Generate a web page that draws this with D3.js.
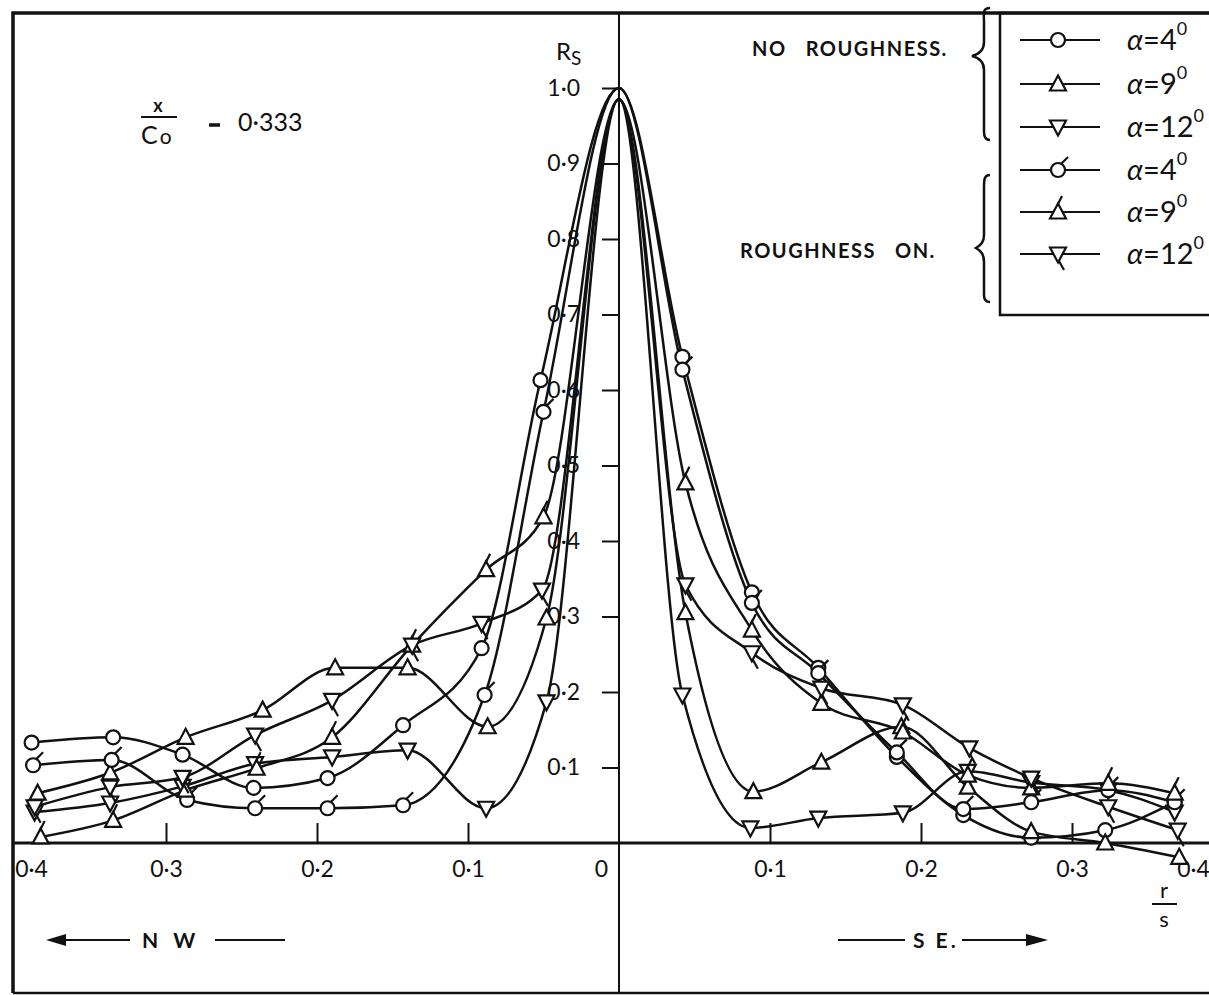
<!DOCTYPE html>
<html>
<head>
<meta charset="utf-8">
<script src="https://cdn.jsdelivr.net/npm/d3@7"></script>
<style>
  body { margin: 0; background: #fff; }
  svg { display: block; }
  text { font-family: Lato, 'DejaVu Sans', sans-serif; fill: #111; }
</style>
</head>
<body>
<div id="chart"></div>
<script>
// r/s is signed: negative = NW side, positive = SE side
var noRough4 = [[-0.389,0.133],[-0.335,0.140],[-0.289,0.117],[-0.242,0.073],[-0.193,0.086],[-0.143,0.156],[-0.091,0.258],[-0.052,0.613],[0,1.0],
  [0.042,0.644],[0.088,0.332],[0.132,0.232],[0.184,0.114],[0.228,0.037],[0.273,0.007],[0.322,0.017],[0.368,0.054]];
var noRough9 = [[-0.385,0.066],[-0.337,0.093],[-0.287,0.140],[-0.236,0.176],[-0.188,0.232],[-0.140,0.232],[-0.087,0.154],[-0.048,0.298],[0,0.985],
  [0.044,0.305],[0.089,0.068],[0.134,0.107],[0.187,0.154],[0.231,0.074],[0.273,0.015],[0.322,0.0],[0.371,-0.019]];
var noRough12 = [[-0.387,0.041],[-0.337,0.053],[-0.289,0.075],[-0.241,0.105],[-0.190,0.114],[-0.140,0.123],[-0.088,0.046],[-0.048,0.187],[0,0.985],
  [0.042,0.196],[0.087,0.020],[0.132,0.033],[0.188,0.040],[0.231,0.095],[0.273,0.080],[0.324,0.070],[0.368,0.041]];
var rough4 = [[-0.388,0.103],[-0.336,0.110],[-0.286,0.057],[-0.241,0.046],[-0.193,0.046],[-0.143,0.050],[-0.089,0.196],[-0.050,0.571],[0,1.0],
  [0.042,0.627],[0.088,0.318],[0.132,0.225],[0.184,0.120],[0.228,0.045],[0.273,0.054],[0.324,0.070],[0.368,0.054]];
var rough9 = [[-0.383,0.008],[-0.335,0.030],[-0.287,0.070],[-0.240,0.099],[-0.190,0.140],[-0.137,0.262],[-0.088,0.362],[-0.050,0.432],[0,0.985],
  [0.044,0.477],[0.088,0.282],[0.134,0.185],[0.188,0.147],[0.231,0.090],[0.273,0.073],[0.324,0.079],[0.368,0.066]];
var rough12 = [[-0.387,0.048],[-0.337,0.074],[-0.289,0.087],[-0.241,0.143],[-0.190,0.189],[-0.137,0.262],[-0.091,0.291],[-0.051,0.335],[0,0.985],
  [0.044,0.342],[0.088,0.252],[0.134,0.205],[0.188,0.183],[0.232,0.126],[0.273,0.086],[0.324,0.048],[0.370,0.017]];

var seriesData = [noRough4, noRough9, noRough12, rough4, rough9, rough12];
var seriesMarker = ['circle', 'up', 'down', 'circle', 'up', 'down'];
var seriesRough = [false, false, false, true, true, true];
var legendAngles = ['4', '9', '12', '4', '9', '12'];

var xTicks = [-0.3, -0.2, -0.1, 0.1, 0.2, 0.3];
var xLabels = [-0.4, -0.3, -0.2, -0.1, 0, 0.1, 0.2, 0.3, 0.4];
var yTicks = [0.1, 0.2, 0.3, 0.4, 0.5, 0.6, 0.7, 0.8, 0.9, 1.0];

var W = 1209, H = 995, INK = '#111';
var svg = d3.select('#chart').append('svg').attr('width', W).attr('height', H);

var x = d3.scaleLinear().domain([-0.4, 0.4]).range([15, 1223]);
var y = d3.scaleLinear().domain([0, 1]).range([843, 88]);
var fmt = function(d) { return d === 0 ? '0' : Math.abs(d).toFixed(1).replace('.', '·'); };

// Frame
svg.append('path').attr('d', 'M13,993 L13,13 L1209,13').attr('fill', 'none').attr('stroke', INK).attr('stroke-width', 3.5);
svg.append('line').attr('x1', 13).attr('x2', 1209).attr('y1', 993).attr('y2', 993).attr('stroke', INK).attr('stroke-width', 2.5);
// Centre line (Rs axis)
svg.append('line').attr('x1', x(0)).attr('x2', x(0)).attr('y1', 13).attr('y2', 993).attr('stroke', INK).attr('stroke-width', 2);
// r/s axis
svg.append('line').attr('x1', 13).attr('x2', 1209).attr('y1', y(0)).attr('y2', y(0)).attr('stroke', INK).attr('stroke-width', 3);

// X ticks (pointing up) and labels
svg.append('g').attr('transform', 'translate(0,' + y(0) + ')')
  .call(d3.axisTop(x).tickValues(xTicks).tickSize(20).tickFormat(''))
  .call(function(g) { g.select('.domain').remove(); })
  .call(function(g) { g.selectAll('.tick line').attr('stroke', INK).attr('stroke-width', 2); });
svg.append('g').attr('transform', 'translate(0,' + y(0) + ')')
  .call(d3.axisBottom(x).tickValues(xLabels).tickSize(0).tickPadding(18).tickFormat(fmt))
  .call(function(g) { g.select('.domain').remove(); })
  .call(function(g) { g.selectAll('.tick text').attr('font-size', '23px').attr('fill', INK)
    .attr('font-family', 'Lato, DejaVu Sans, sans-serif')
    .attr('dx', function(d) { return d === -0.4 ? 16 : (d === 0.4 ? -30 : (d === 0 ? -18 : 0)); }); });

// Y ticks and labels
svg.append('g').attr('transform', 'translate(' + x(0) + ',0)')
  .call(d3.axisLeft(y).tickValues(yTicks).tickSize(17).tickPadding(22).tickFormat(fmt))
  .call(function(g) { g.select('.domain').remove(); })
  .call(function(g) { g.selectAll('.tick line').attr('stroke', INK).attr('stroke-width', 2); })
  .call(function(g) { g.selectAll('.tick text').attr('font-size', '23px').attr('fill', INK)
    .attr('font-family', 'Lato, DejaVu Sans, sans-serif'); });

// Rs label
var rs = svg.append('text').attr('x', 556).attr('y', 60).attr('font-size', '24px');
rs.append('tspan').text('R');
rs.append('tspan').attr('font-size', '19px').attr('dy', 5).text('S');

// Curves
var line = d3.line().x(function(d) { return x(d[0]); }).y(function(d) { return y(d[1]); }).curve(d3.curveMonotoneX);
seriesData.forEach(function(pts) {
  svg.append('path').attr('d', line(pts)).attr('fill', 'none').attr('stroke', INK).attr('stroke-width', 2.5);
});

function drawMarker(g, kind, rough) {
  if (kind === 'circle') {
    g.append('circle').attr('r', 7).attr('fill', '#fff').attr('stroke', INK).attr('stroke-width', 2.2);
    if (rough) g.append('line').attr('x1', 3).attr('y1', -6).attr('x2', 10).attr('y2', -13).attr('stroke', INK).attr('stroke-width', 2.2);
  } else if (kind === 'up') {
    g.append('path').attr('d', 'M0,-8.5L8,6.5L-8,6.5Z').attr('fill', '#fff').attr('stroke', INK).attr('stroke-width', 2.2);
    if (rough) g.append('line').attr('x1', -1).attr('y1', -6).attr('x2', 4).attr('y2', -16).attr('stroke', INK).attr('stroke-width', 2.2);
  } else {
    g.append('path').attr('d', 'M0,8.5L8,-6.5L-8,-6.5Z').attr('fill', '#fff').attr('stroke', INK).attr('stroke-width', 2.2);
    if (rough) g.append('line').attr('x1', 1).attr('y1', 7).attr('x2', 6).attr('y2', 16).attr('stroke', INK).attr('stroke-width', 2.2);
  }
}

seriesData.forEach(function(pts, i) {
  pts.filter(function(d) { return d[0] !== 0; }).forEach(function(d) {
    var g = svg.append('g').attr('transform', 'translate(' + x(d[0]) + ',' + y(d[1]) + ')');
    drawMarker(g, seriesMarker[i], seriesRough[i]);
  });
});

// x / Co = 0.333
svg.append('text').attr('x', 158).attr('y', 112).attr('font-size', '18px').attr('font-weight', 'bold').attr('text-anchor', 'middle').text('x');
svg.append('line').attr('x1', 141).attr('x2', 177).attr('y1', 117).attr('y2', 117).attr('stroke', INK).attr('stroke-width', 2);
var co = svg.append('text').attr('x', 141).attr('y', 144).attr('font-size', '25px');
co.append('tspan').text('C');
co.append('tspan').attr('font-size', '21px').attr('dx', 2).text('o');
svg.append('line').attr('x1', 209).attr('x2', 220).attr('y1', 125).attr('y2', 125).attr('stroke', INK).attr('stroke-width', 3.5);
svg.append('text').attr('x', 238).attr('y', 131).attr('font-size', '25px').text('0·333');

// Legend box
svg.append('rect').attr('x', 1000).attr('y', 13).attr('width', 260).attr('height', 302)
  .attr('fill', 'none').attr('stroke', INK).attr('stroke-width', 2.5);
var legendRows = [40, 84, 127, 170, 212, 254];
seriesData.forEach(function(pts, i) {
  var ly = legendRows[i];
  svg.append('line').attr('x1', 1020).attr('x2', 1100).attr('y1', ly).attr('y2', ly).attr('stroke', INK).attr('stroke-width', 2.2);
  var g = svg.append('g').attr('transform', 'translate(1058,' + ly + ')');
  drawMarker(g, seriesMarker[i], seriesRough[i]);
  var t = svg.append('text').attr('x', 1127).attr('y', ly + 10).attr('font-size', '29px');
  t.append('tspan').attr('font-style', 'italic').text('α');
  t.append('tspan').text('=' + legendAngles[i]);
  t.append('tspan').attr('font-size', '18px').attr('dy', -15).text('0');
});

// Group labels with braces
svg.append('text').attr('x', 752).attr('y', 56).attr('font-size', '20px').attr('font-weight', 'bold')
  .attr('letter-spacing', 1.5).attr('xml:space', 'preserve').text('NO   ROUGHNESS.');
svg.append('text').attr('x', 740).attr('y', 258).attr('font-size', '20px').attr('font-weight', 'bold')
  .attr('letter-spacing', 1.5).attr('xml:space', 'preserve').text('ROUGHNESS   ON.');
svg.append('path').attr('d', 'M990,8 C982,8 984,14 984,22 L984,42 C984,50 980,54 972,56 C980,58 984,62 984,70 L984,132 C984,138 986,140 990,140')
  .attr('fill', 'none').attr('stroke', INK).attr('stroke-width', 2.5);
svg.append('path').attr('d', 'M990,175 C984,175 984,180 984,188 L984,235 C984,242 981,245 976,248 C981,251 984,254 984,262 L984,295 C984,300 986,302 990,302')
  .attr('fill', 'none').attr('stroke', INK).attr('stroke-width', 2.5);

// r/s label
svg.append('text').attr('x', 1164).attr('y', 898).attr('font-size', '22px').attr('text-anchor', 'middle').text('r');
svg.append('line').attr('x1', 1152).attr('x2', 1177).attr('y1', 904).attr('y2', 904).attr('stroke', INK).attr('stroke-width', 2);
svg.append('text').attr('x', 1164).attr('y', 927).attr('font-size', '22px').attr('text-anchor', 'middle').text('s');

// Direction arrows
svg.append('line').attr('x1', 52).attr('x2', 130).attr('y1', 940).attr('y2', 940).attr('stroke', INK).attr('stroke-width', 2);
svg.append('path').attr('d', 'M46,940 L66,934 L66,946 Z').attr('fill', INK);
svg.append('text').attr('x', 142).attr('y', 948).attr('font-size', '21px').attr('font-weight', 'bold').attr('letter-spacing', 5).text('N W');
svg.append('line').attr('x1', 215).attr('x2', 285).attr('y1', 940).attr('y2', 940).attr('stroke', INK).attr('stroke-width', 2);

svg.append('line').attr('x1', 838).attr('x2', 905).attr('y1', 940).attr('y2', 940).attr('stroke', INK).attr('stroke-width', 2);
svg.append('text').attr('x', 913).attr('y', 948).attr('font-size', '21px').attr('font-weight', 'bold').attr('letter-spacing', 3).text('S E.');
svg.append('line').attr('x1', 962).attr('x2', 1030).attr('y1', 940).attr('y2', 940).attr('stroke', INK).attr('stroke-width', 2);
svg.append('path').attr('d', 'M1048,940 L1026,934 L1026,946 Z').attr('fill', INK);
</script>
</body>
</html>
